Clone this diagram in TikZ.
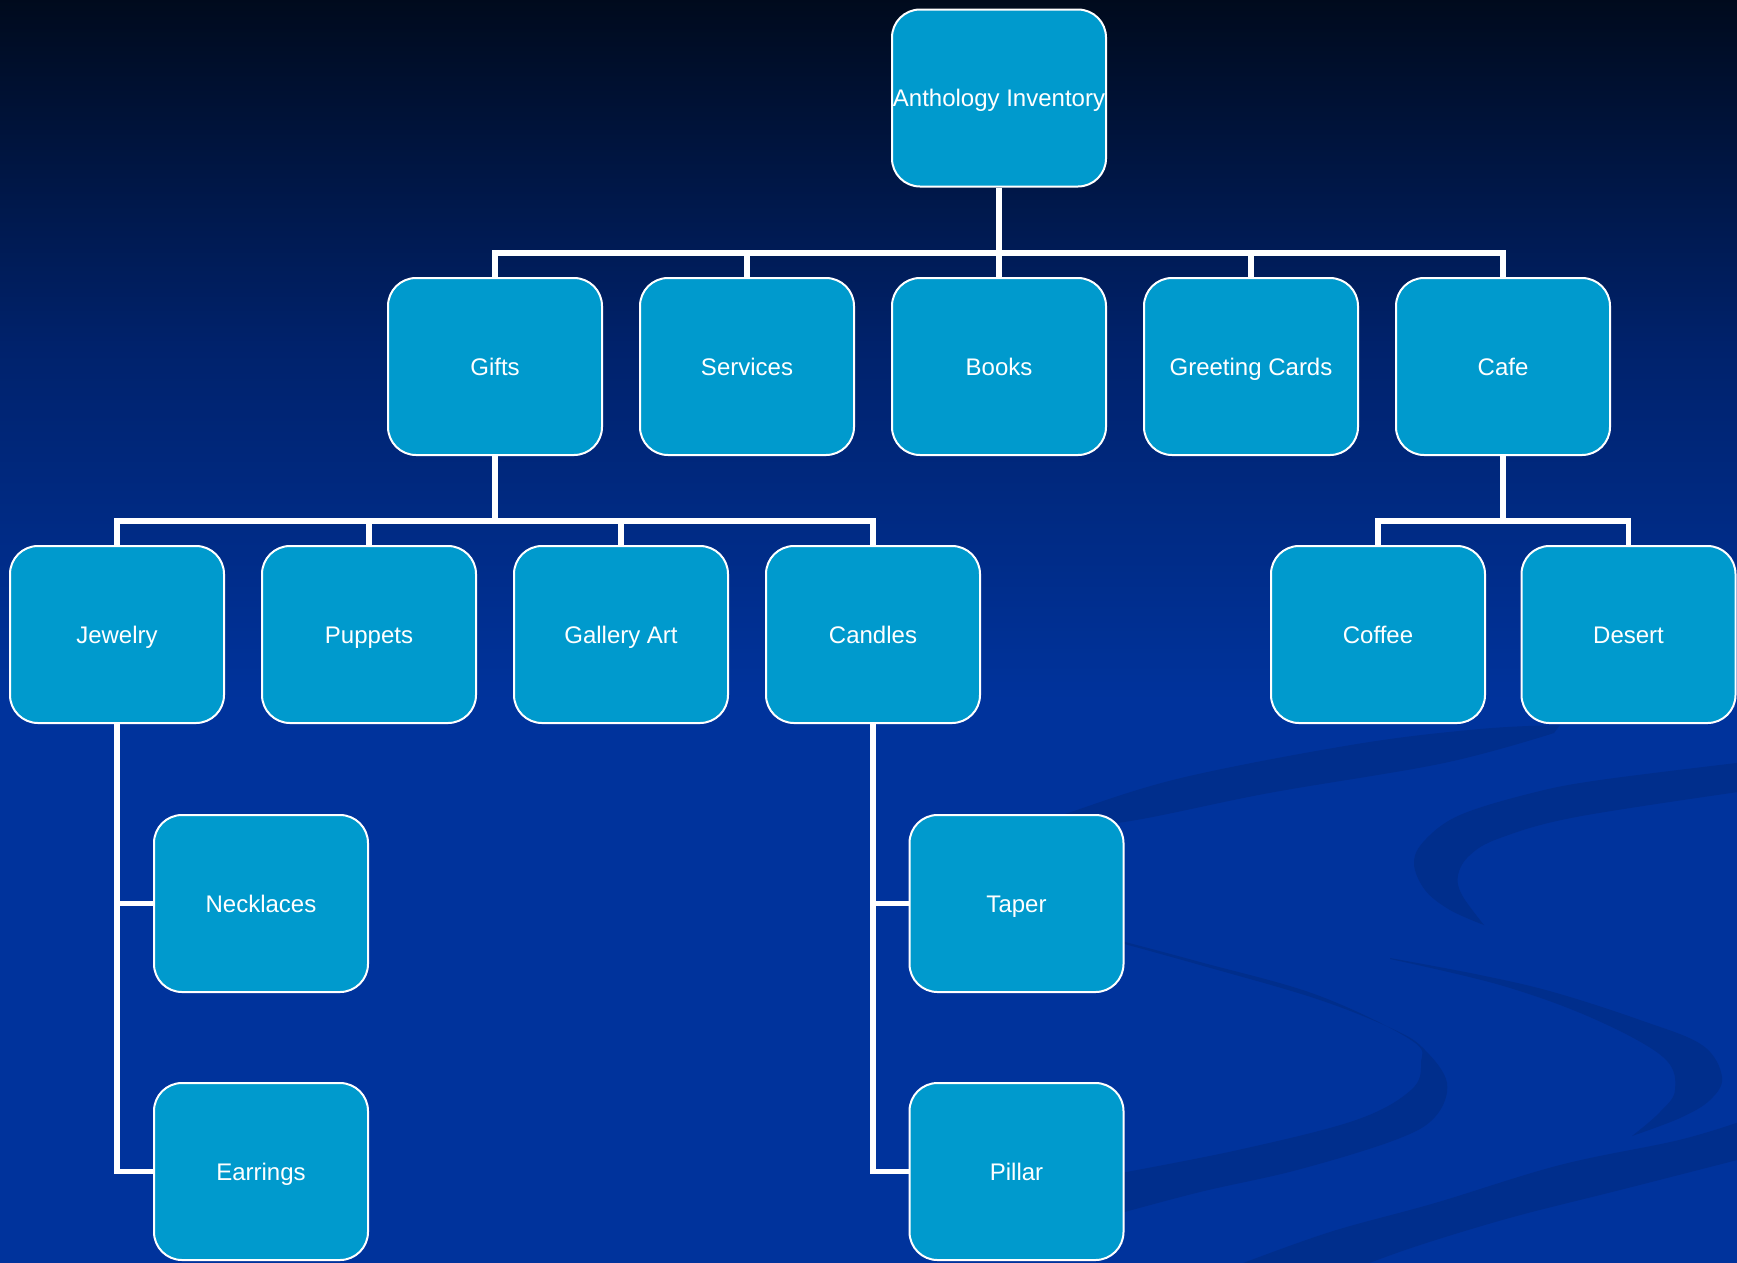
\documentclass[tikz,border=0pt]{standalone}
\usepackage{fontspec}
\setmainfont{Liberation Sans}
\definecolor{topc}{HTML}{000A1C}
\definecolor{midc}{HTML}{00226C}
\definecolor{bgc}{HTML}{00339C}
\definecolor{swc}{HTML}{002E8C}
\definecolor{boxc}{HTML}{009ACD}
\begin{document}
\begin{tikzpicture}[x=1pt,y=-1pt,
  box/.style={draw=white, line width=2pt, fill=boxc, rounded corners=28pt,
    minimum width=214pt, minimum height=177pt, inner sep=0pt, text=white,
    text height=17.2pt, text depth=0pt,
    font=\fontsize{24}{28}\selectfont},
  conn/.style={draw=white, line width=5.5pt},
  swoosh/.style={fill=swc}]
\useasboundingbox (0,0) rectangle (1737,1262);
% background
\fill[top color=topc, bottom color=bgc, middle color=midc] (-5,-5) rectangle (1745,700);
\fill[bgc] (-5,699) rectangle (1745,1275);
% swooshes
\fill[swoosh] plot[smooth, tension=0.6] coordinates {(1045,822) (1068,813) (1181,778) (1357,744) (1480,729) (1560,725)}
  -- plot[smooth, tension=0.6] coordinates {(1554,733) (1444,763) (1269,793) (1124,822) (1045,826)} -- cycle;
\fill[swoosh] plot[smooth, tension=0.6] coordinates {(1745,762) (1600,780) (1532,793) (1460,815) (1425,840) (1414,863) (1425,890) (1450,910) (1484,925)}
  -- plot[smooth, tension=0.6] coordinates {(1484,925) (1462,895) (1458,875) (1470,855) (1500,838) (1576,817) (1745,791)} -- cycle;
\fill[swoosh] plot[smooth, tension=0.6] coordinates {(1110,940) (1200,965) (1317,999) (1395,1030) (1425,1050) (1447,1083) (1435,1117) (1395,1140) (1297,1170) (1200,1192) (1110,1216)}
  -- plot[smooth, tension=0.6] coordinates {(1110,1175) (1238,1150) (1356,1120) (1411,1090) (1421,1063) (1411,1040) (1317,995) (1200,962) (1110,938)} -- cycle;
\fill[swoosh] plot[smooth, tension=0.6] coordinates {(1390,958) (1480,975) (1553,992) (1640,1020) (1702,1045) (1722,1077) (1710,1100) (1680,1118) (1632,1136)}
  -- plot[smooth, tension=0.6] coordinates {(1632,1136) (1659,1113) (1675,1090) (1663,1057) (1592,1018) (1500,985) (1390,959)} -- cycle;
\fill[swoosh] (1210,1275) -- plot[smooth, tension=0.6] coordinates {(1238,1265) (1330,1232) (1435,1203) (1560,1165) (1679,1140) (1745,1120)}
  -- plot[smooth, tension=0.6] coordinates {(1745,1158) (1620,1190) (1513,1217) (1420,1245) (1364,1265)} -- (1336,1275) -- cycle;
% nodes
\node[box] (root) at (999,98) {Anthology Inventory};
\node[box] (gifts) at (495,366.5) {Gifts};
\node[box] (services) at (747,366.5) {Services};
\node[box] (books) at (999,366.5) {Books};
\node[box] (greeting) at (1251,366.5) {Greeting Cards};
\node[box] (cafe) at (1503,366.5) {Cafe};
\node[box] (jewelry) at (117,634.5) {Jewelry};
\node[box] (puppets) at (369,634.5) {Puppets};
\node[box] (gallery) at (621,634.5) {Gallery Art};
\node[box] (candles) at (873,634.5) {Candles};
\node[box] (coffee) at (1378,634.5) {Coffee};
\node[box] (desert) at (1628.5,634.5) {Desert};
\node[box] (necklaces) at (261,903.5) {Necklaces};
\node[box] (earrings) at (261,1171.5) {Earrings};
\node[box] (taper) at (1016.5,903.5) {Taper};
\node[box] (pillar) at (1016.5,1171.5) {Pillar};
% connectors
\coordinate (bus1) at (999,253);
\coordinate (bus2) at (495,521);
\coordinate (bus3) at (1503,521);
\draw[conn] (root.south) -- (bus1);
\draw[conn] (gifts.north) -- (gifts.north |- bus1) -- (cafe.north |- bus1) -- (cafe.north);
\draw[conn] (services.north) -- (services.north |- bus1);
\draw[conn] (books.north) -- (books.north |- bus1);
\draw[conn] (greeting.north) -- (greeting.north |- bus1);
\draw[conn] (gifts.south) -- (bus2);
\draw[conn] (jewelry.north) -- (jewelry.north |- bus2) -- (candles.north |- bus2) -- (candles.north);
\draw[conn] (puppets.north) -- (puppets.north |- bus2);
\draw[conn] (gallery.north) -- (gallery.north |- bus2);
\draw[conn] (cafe.south) -- (bus3);
\draw[conn] (coffee.north) -- (coffee.north |- bus3) -- (desert.north |- bus3) -- (desert.north);
\draw[conn] (jewelry.south) |- (earrings.west);
\draw[conn] (necklaces.west) -- (necklaces.west -| jewelry.south);
\draw[conn] (candles.south) |- (pillar.west);
\draw[conn] (taper.west) -- (taper.west -| candles.south);
\end{tikzpicture}
\end{document}
